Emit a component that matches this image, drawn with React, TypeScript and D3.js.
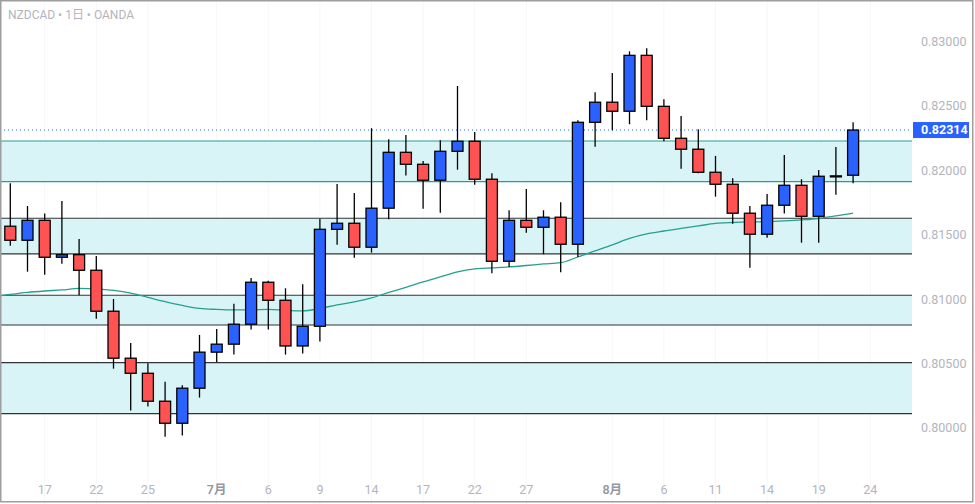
import React from "react";
import * as d3 from "d3";

const W = 975;
const H = 504;
const plotRight = 912;

// daily OHLC (50 sessions)
const opens = [
  0.81567, 0.81458, 0.81613, 0.81326, 0.81346, 0.81225, 0.80907, 0.80542, 0.80425, 0.80208,
  0.80037, 0.80309, 0.80589, 0.80651, 0.80806, 0.81132, 0.80992, 0.80637, 0.8079, 0.81543,
  0.8159, 0.81404, 0.81707, 0.82141, 0.82048, 0.81924, 0.82149, 0.82227, 0.81932, 0.81295,
  0.81613, 0.81559, 0.81637, 0.81427, 0.82374, 0.8253, 0.8246, 0.82894, 0.82498, 0.8225,
  0.82165, 0.81986, 0.81893, 0.81668, 0.81505, 0.8173, 0.81885, 0.81644, 0.81958, 0.81963,
];
const highs = [
  0.81901, 0.81724, 0.81665, 0.81763, 0.81468, 0.81336, 0.81002, 0.80661, 0.80503, 0.8036,
  0.80332, 0.80723, 0.80769, 0.80964, 0.81165, 0.81144, 0.81085, 0.81116, 0.81626, 0.81895,
  0.81825, 0.82328, 0.82242, 0.82276, 0.82074, 0.82234, 0.82656, 0.82299, 0.81978, 0.81691,
  0.81856, 0.81691, 0.81753, 0.8239, 0.82607, 0.82757, 0.82925, 0.82949, 0.82553, 0.82423,
  0.8232, 0.82113, 0.81939, 0.81724, 0.81818, 0.8212, 0.81932, 0.82004, 0.82182, 0.82374,
];
const lows = [
  0.81416, 0.81214, 0.81191, 0.81276, 0.81031, 0.80849, 0.80461, 0.80135, 0.80166, 0.79933,
  0.79941, 0.80236, 0.80513, 0.8057, 0.80764, 0.80764, 0.8057, 0.80578, 0.80671, 0.81424,
  0.81323, 0.81362, 0.81621, 0.8196, 0.81703, 0.81672, 0.82006, 0.8189, 0.81202, 0.81251,
  0.81517, 0.81349, 0.8121, 0.81328, 0.82185, 0.82312, 0.82359, 0.8239, 0.82227, 0.82014,
  0.81978, 0.81797, 0.81587, 0.81245, 0.81478, 0.81665, 0.81439, 0.81439, 0.81812, 0.81901,
];
const closes = [
  0.81458, 0.81613, 0.81326, 0.81346, 0.81225, 0.80907, 0.80542, 0.80425, 0.80208, 0.80037,
  0.80309, 0.80589, 0.80651, 0.80806, 0.81132, 0.80992, 0.80637, 0.8079, 0.81543, 0.8159,
  0.81404, 0.81707, 0.82141, 0.82048, 0.81924, 0.82149, 0.82227, 0.81932, 0.81295, 0.81613,
  0.81559, 0.81637, 0.81427, 0.82374, 0.8253, 0.8246, 0.82894, 0.82498, 0.8225, 0.82165,
  0.81986, 0.81893, 0.81668, 0.81505, 0.8173, 0.81885, 0.81644, 0.81955, 0.81958, 0.82314,
];

// moving average; first value belongs to the session before the first visible candle
const maValues = [
  0.81018, 0.81037, 0.81053, 0.81064, 0.81072, 0.81084, 0.8108, 0.81068, 0.81047, 0.81014,
  0.80981, 0.80952, 0.80929, 0.80921, 0.80917, 0.80917, 0.80921, 0.80913, 0.80909, 0.80929,
  0.80956, 0.80979, 0.8101, 0.81053, 0.81092, 0.81134, 0.81173, 0.81212, 0.81235, 0.81243,
  0.81251, 0.81262, 0.81274, 0.81284, 0.81328, 0.81375, 0.81422, 0.81472, 0.81507, 0.8153,
  0.8155, 0.81569, 0.81589, 0.81596, 0.816, 0.81602, 0.81608, 0.81616, 0.81627, 0.81647,
  0.81668,
];

// support / resistance zones
const zoneTops = [0.82229, 0.81629, 0.81031, 0.80508];
const zoneBottoms = [0.81914, 0.81352, 0.808, 0.80112];
const zoneTeal = [true, false, false, false];

const lastPrice = 0.82314;

const yTicks = [0.8, 0.805, 0.81, 0.815, 0.82, 0.825, 0.83];
const xTickIdx = [2, 5, 8, 12, 15, 18, 21, 24, 27, 30, 35, 38, 41, 44, 47, 50];
const xTickLabels = ["17", "22", "25", "7月", "6", "9", "14", "17", "22", "27", "8月", "6", "11", "14", "19", "24"];

const UP = "#2962ff";
const DOWN = "#ff5252";
const TEAL = "#26a08e";
const FONT = "Roboto, 'Noto Sans CJK JP', sans-serif";

export default function App() {
  const x = d3.scaleLinear().domain([0, 49]).range([10.3, 853.1]);
  const y = d3.scaleLinear().domain([0.8, 0.83]).range([428, 41.7]);
  const bodyW = 11;

  const maLine = d3
    .line<number>()
    .x((_, i) => x(i - 1))
    .y((d) => y(d))
    .curve(d3.curveMonotoneX)(maValues);

  return (
    <svg
      width={W}
      height={H}
      style={{ position: "fixed", left: 0, top: 0, background: "#fff" }}
      fontFamily={FONT}
    >
      <defs>
        <clipPath id="plot">
          <rect x={0} y={0} width={plotRight} height={H} />
        </clipPath>
      </defs>

      {/* faint vertical grid */}
      {xTickIdx.map((idx, i) => (
        <line key={`g-${i}`} x1={x(idx)} x2={x(idx)} y1={0} y2={H} stroke="#f7f7f7" />
      ))}

      {/* zones */}
      {zoneTops.map((top, i) => {
        const col = zoneTeal[i] ? TEAL : "#333";
        return (
          <g key={`z-${i}`}>
            <rect
              x={0}
              y={y(top)}
              width={plotRight}
              height={y(zoneBottoms[i]) - y(top)}
              fill="#d8f4f6"
            />
            <line x1={0} x2={plotRight} y1={y(top)} y2={y(top)} stroke={col} strokeWidth={1.2} />
            <line
              x1={0}
              x2={plotRight}
              y1={y(zoneBottoms[i])}
              y2={y(zoneBottoms[i])}
              stroke={col}
              strokeWidth={1.2}
            />
          </g>
        );
      })}

      {/* last price dotted line */}
      <line
        x1={0}
        x2={plotRight}
        y1={y(lastPrice)}
        y2={y(lastPrice)}
        stroke={UP}
        strokeWidth={1}
        strokeDasharray="1,3"
      />

      {/* moving average */}
      <path d={maLine ?? ""} fill="none" stroke={TEAL} strokeWidth={1.3} clipPath="url(#plot)" />

      {/* candles */}
      {opens.map((o, i) => {
        const c = closes[i];
        const top = y(Math.max(o, c));
        const bot = y(Math.min(o, c));
        const cx = x(i);
        return (
          <g key={`c-${i}`}>
            <line x1={cx} x2={cx} y1={y(highs[i])} y2={y(lows[i])} stroke="#000" strokeWidth={1.3} />
            <rect
              x={cx - bodyW / 2}
              y={top}
              width={bodyW}
              height={Math.max(bot - top, 1)}
              fill={c >= o ? UP : DOWN}
              stroke="#000"
              strokeWidth={1.3}
            />
          </g>
        );
      })}

      {/* title */}
      <text x={8} y={19} fontSize={12} fill="#b2b5be">
        NZDCAD • 1日 • OANDA
      </text>

      {/* price axis */}
      {yTicks.map((t) => (
        <text
          key={`y-${t}`}
          x={921}
          y={y(t)}
          dy="0.35em"
          fontSize={12.5}
          fill="#b2b5be"
        >
          {d3.format(".5f")(t)}
        </text>
      ))}
      <rect x={913} y={y(lastPrice) - 8} width={56} height={16} fill={UP} />
      <text
        x={921}
        y={y(lastPrice)}
        dy="0.35em"
        fontSize={12.5}
        fontWeight={700}
        fill="#fff"
      >
        {d3.format(".5f")(lastPrice)}
      </text>

      {/* time axis */}
      {xTickIdx.map((idx, i) => (
        <text
          key={`x-${i}`}
          x={x(idx)}
          y={490}
          dy="0.35em"
          textAnchor="middle"
          fontSize={12.5}
          fill={xTickLabels[i].includes("月") ? "#9598a1" : "#b2b5be"}
          fontWeight={xTickLabels[i].includes("月") ? 600 : 400}
        >
          {xTickLabels[i]}
        </text>
      ))}

      {/* frame */}
      <rect x={0.75} y={0.75} width={W - 3} height={H - 3} fill="none" stroke="#9e9e9e" strokeWidth={1.5} />
    </svg>
  );
}
